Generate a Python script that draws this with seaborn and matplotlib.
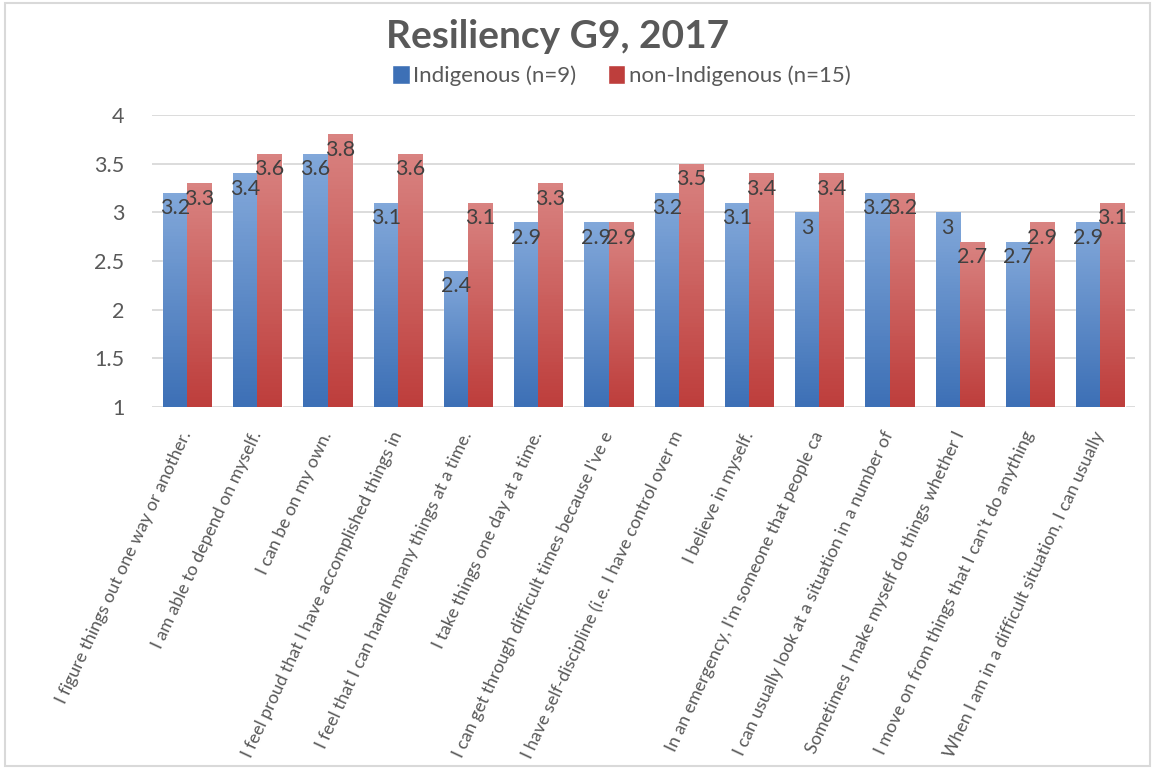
import matplotlib
matplotlib.use("Agg")
import matplotlib.pyplot as plt
import numpy as np
import pandas as pd
import seaborn as sns
from matplotlib.colors import LinearSegmentedColormap
from matplotlib.patches import Patch, Rectangle

ITEMS = [
    "I figure things out one way or another.",
    "I am able to depend on myself.",
    "I can be on my own.",
    "I feel proud that I have accomplished things in",
    "I feel that I can handle many things at a time.",
    "I take things one day at a time.",
    "I can get through difficult times because I've e",
    "I have self-discipline (i.e. I have control over m",
    "I believe in myself.",
    "In an emergency, I'm someone that people ca",
    "I can usually look at a situation in a number of",
    "Sometimes I make myself do things whether I",
    "I move on from things that I can't do anything",
    "When I am in a difficult situation, I can usually",
]
INDIGENOUS = [3.2, 3.4, 3.6, 3.1, 2.4, 2.9, 2.9, 3.2, 3.1, 3.0, 3.2, 3.0, 2.7, 2.9]
NON_INDIGENOUS = [3.3, 3.6, 3.8, 3.6, 3.1, 3.3, 2.9, 3.5, 3.4, 3.4, 3.2, 2.7, 2.9, 3.1]
GROUPS = ["Indigenous (n=9)", "non-Indigenous (n=15)"]

# colour ramps: (top, bottom) of each bar
RAMPS = {
    GROUPS[0]: ("#82A8DA", "#3D70B6"),
    GROUPS[1]: ("#D98381", "#BE3E3C"),
}

df = pd.DataFrame({
    "item": ITEMS * 2,
    "group": [GROUPS[0]] * len(ITEMS) + [GROUPS[1]] * len(ITEMS),
    "score": INDIGENOUS + NON_INDIGENOUS,
})

sns.set_style("white")
plt.rcParams["font.family"] = ["Lato", "DejaVu Sans"]

fig = plt.figure(figsize=(11.55, 7.69), dpi=100)
ax = fig.add_axes([0.1316, 0.4707, 0.8515, 0.3798])

sns.barplot(
    data=df, x="item", y="score", hue="group",
    palette=[RAMPS[g][1] for g in GROUPS],
    width=0.69, gap=0, ax=ax, legend=False, zorder=2,
)

ax.set_ylim(1, 4)
ax.set_yticks(np.arange(1, 4.01, 0.5))
ax.set_yticklabels([f"{v:g}" for v in np.arange(1, 4.01, 0.5)])
ax.grid(axis="y", color="#D9D9D9", linewidth=1.3, zorder=0)
ax.set_axisbelow(True)
for side in ax.spines.values():
    side.set_visible(False)
ax.tick_params(axis="y", length=0, labelsize=15.5, labelcolor="#595959", pad=20)
ax.tick_params(axis="x", length=0, labelsize=12.8, labelcolor="#595959", pad=18)
ax.set_xlabel("")
ax.set_ylabel("")
plt.setp(ax.get_xticklabels(), rotation=65, ha="right", va="center",
         rotation_mode="anchor")

# gradient fill inside each bar, plus value labels
for container, group in zip(ax.containers, GROUPS):
    top, bottom = RAMPS[group]
    cmap = LinearSegmentedColormap.from_list(group, [bottom, top])
    for bar, val in zip(container.patches, container.datavalues):
        x0 = bar.get_x()
        w = bar.get_width()
        grad = np.linspace(0, 1, 64).reshape(-1, 1)
        im = ax.imshow(grad, cmap=cmap, aspect="auto", origin="lower",
                       extent=[x0, x0 + w, 1, val], zorder=2)
        im.set_clip_path(bar)
        bar.set_facecolor("none")
        ax.text(x0 + w / 2, val - 0.16, f"{val:g}", ha="center", va="center",
                fontsize=15.5, color="#404040", zorder=3)

ax.set_xlim(-0.5, len(ITEMS) - 0.5)
ax.set_ylim(1, 4)

fig.text(0.483, 0.953, "Resiliency G9, 2017", ha="center", va="center",
         fontsize=28, fontweight="bold", color="#595959")

handles = [Patch(facecolor=RAMPS[g][1], label=g) for g in GROUPS]
fig.legend(handles=handles, loc="center", bbox_to_anchor=(0.538, 0.902), ncol=2,
           frameon=False, fontsize=16, handlelength=0.8, handleheight=1.0,
           handletextpad=0.15, columnspacing=1.4, labelcolor="#595959")

fig.patches.append(Rectangle((0.004, 0.004), 0.992, 0.992, transform=fig.transFigure,
                             fill=False, edgecolor="#D9D9D9", linewidth=1.5))

fig.savefig("out.png", dpi=100)
